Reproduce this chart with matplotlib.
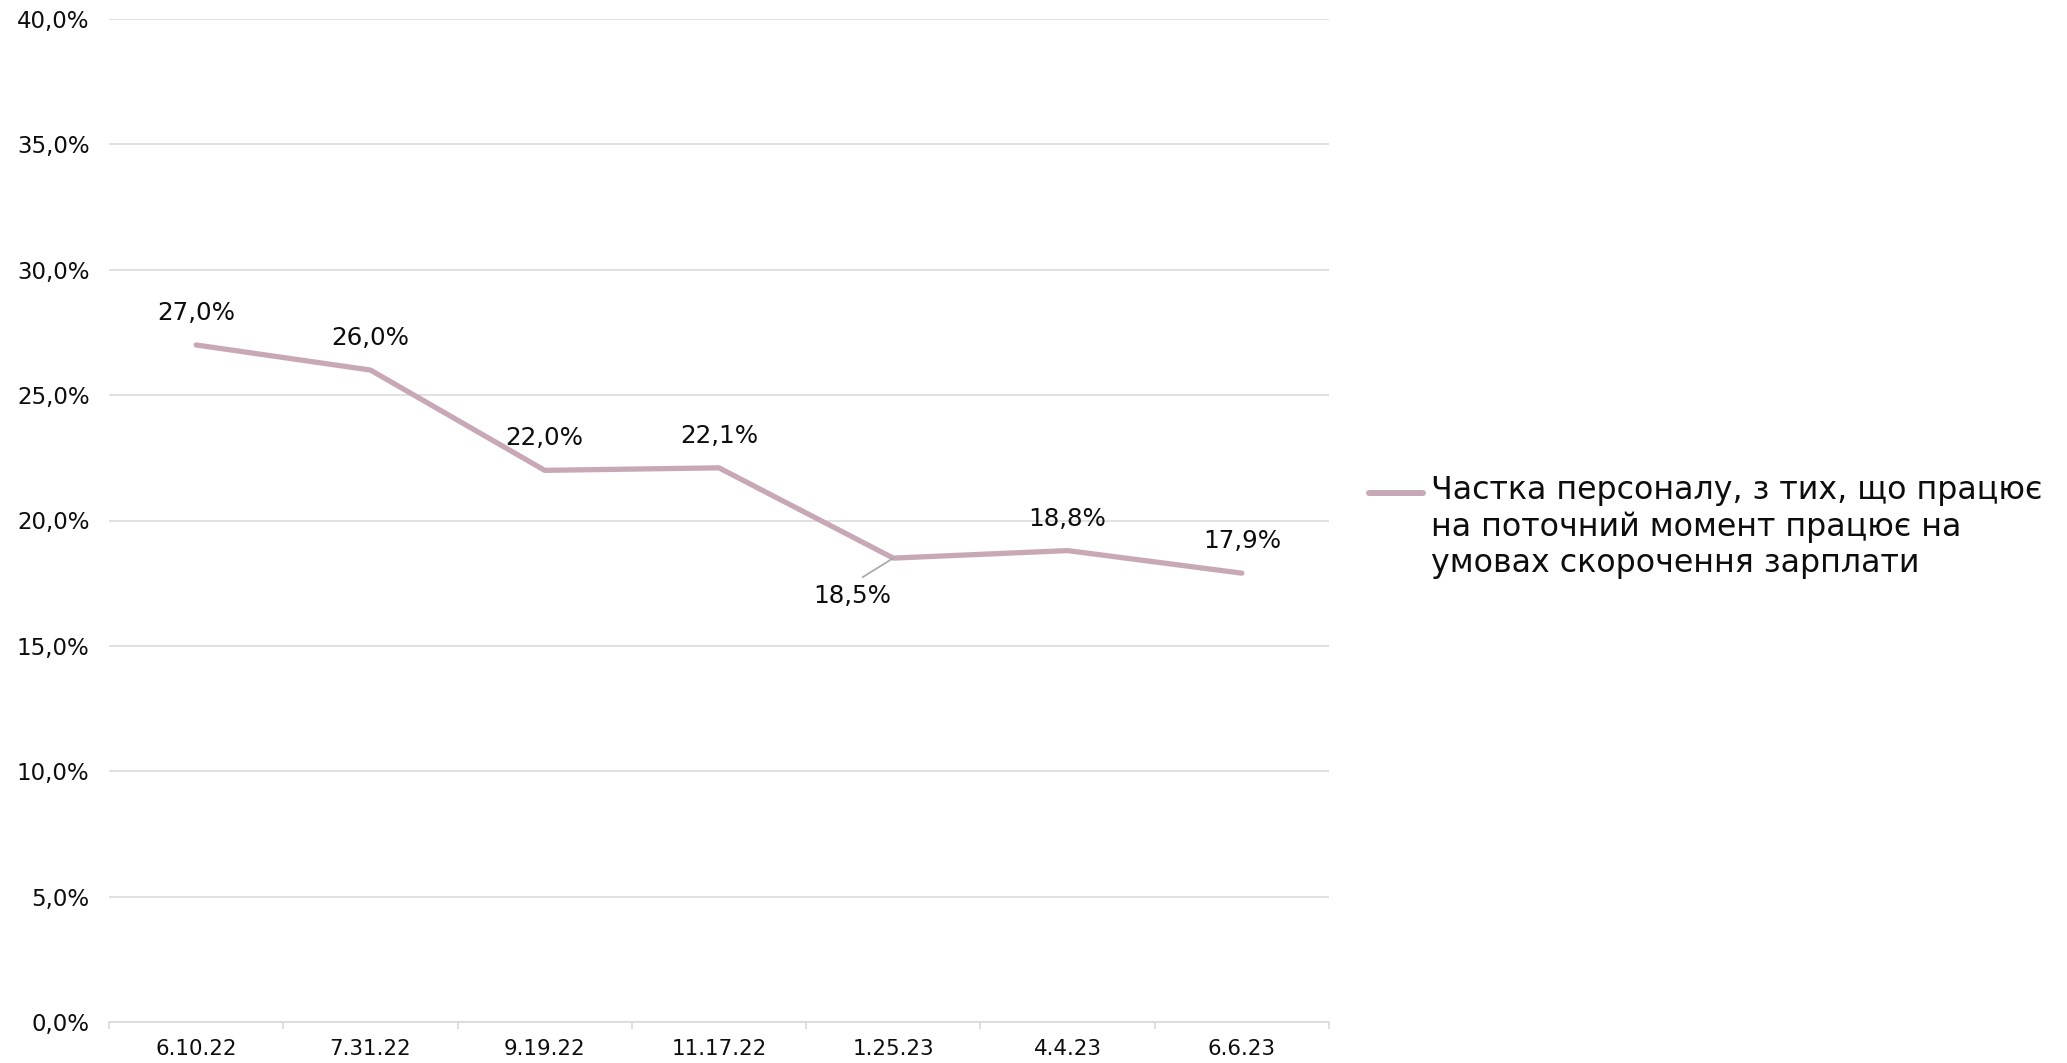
import numpy as np
import matplotlib
matplotlib.use("Agg")
import matplotlib.pyplot as plt
from matplotlib.legend_handler import HandlerLine2D
from matplotlib.ticker import FixedLocator, FuncFormatter

categories = ["6.10.22", "7.31.22", "9.19.22", "11.17.22", "1.25.23", "4.4.23", "6.6.23"]
values = [27.0, 26.0, 22.0, 22.1, 18.5, 18.8, 17.9]
y_ticks = [0, 5, 10, 15, 20, 25, 30, 35, 40]
series_label = "Частка персоналу, з тих, що працює\nна поточний момент працює на\nумовах скорочення зарплати"

LINE_C = "#C8A8B7"
GRID_C = "#D9D9D9"
TEXT_C = "#0D0D0D"
FONT = ["DejaVu Sans"]

fig = plt.figure(figsize=(20.67, 10.63), dpi=100)
ax = fig.add_axes([109/2067, 1 - 1022/1063, (1329-109)/2067, (1022-19)/1063])

x = np.arange(len(categories))
line, = ax.plot(x, values, color=LINE_C, lw=3.8, solid_capstyle="round",
                solid_joinstyle="round", label=series_label, zorder=3)

ax.set_xlim(-0.5, len(categories) - 0.5)
ax.set_ylim(0, 40)
ax.yaxis.set_major_locator(FixedLocator(y_ticks))
ax.yaxis.set_major_formatter(FuncFormatter(lambda v, p: f"{v:.1f}%".replace(".", ",")))
ax.set_xticks(x)
ax.set_xticklabels(categories)
ax.xaxis.set_minor_locator(FixedLocator(np.arange(len(categories) + 1) - 0.5))

ax.grid(axis="y", color=GRID_C, lw=1.1, zorder=0)
ax.set_axisbelow(True)
for s in ["top", "right", "left"]:
    ax.spines[s].set_visible(False)
ax.spines["bottom"].set_color(GRID_C)
ax.spines["bottom"].set_linewidth(1.2)

ax.tick_params(axis="y", length=0, pad=14, labelsize=16.5, labelcolor=TEXT_C)
ax.tick_params(axis="x", which="major", length=0, pad=12, labelsize=15.4, labelcolor=TEXT_C)
ax.tick_params(axis="x", which="minor", length=5, width=1.2, color=GRID_C)
for lab in ax.get_xticklabels() + ax.get_yticklabels():
    lab.set_fontfamily(FONT)

for i, v in enumerate(values):
    txt = f"{v:.1f}%".replace(".", ",")
    if i == 4:
        ax.annotate(txt, (x[i], v), xytext=(-29.5, -27), textcoords="offset points",
                    ha="center", va="center", fontsize=17.7, family=FONT, color=TEXT_C,
                    arrowprops=dict(arrowstyle="-", color="#A6A6A6", lw=1.2,
                                    shrinkA=5, shrinkB=0, relpos=(0.5, 1.0)))
    else:
        ax.annotate(txt, (x[i], v), xytext=(0, 23), textcoords="offset points",
                    ha="center", va="center", fontsize=17.7, family=FONT, color=TEXT_C)


class FirstLineHandler(HandlerLine2D):
    def create_artists(self, legend, orig_handle, xdescent, ydescent, width, height,
                       fontsize, trans):
        arts = super().create_artists(legend, orig_handle, xdescent, ydescent, width,
                                      height, fontsize, trans)
        for a in arts:
            a.set_ydata(np.asarray(a.get_ydata()) + 25.5)
        return arts


leg = fig.legend(handles=[line], loc="center left", bbox_to_anchor=(1369/2067, 1 - 527/1063),
                 frameon=False, handlelength=1.7, handletextpad=0.26, borderpad=0,
                 borderaxespad=0, handler_map={line: FirstLineHandler()},
                 prop={"family": FONT, "size": 22.8})
for t in leg.get_texts():
    t.set_color(TEXT_C)
for h in leg.legend_handles:
    h.set_linewidth(4.3)

fig.savefig("out.png", dpi=100, facecolor="white")
